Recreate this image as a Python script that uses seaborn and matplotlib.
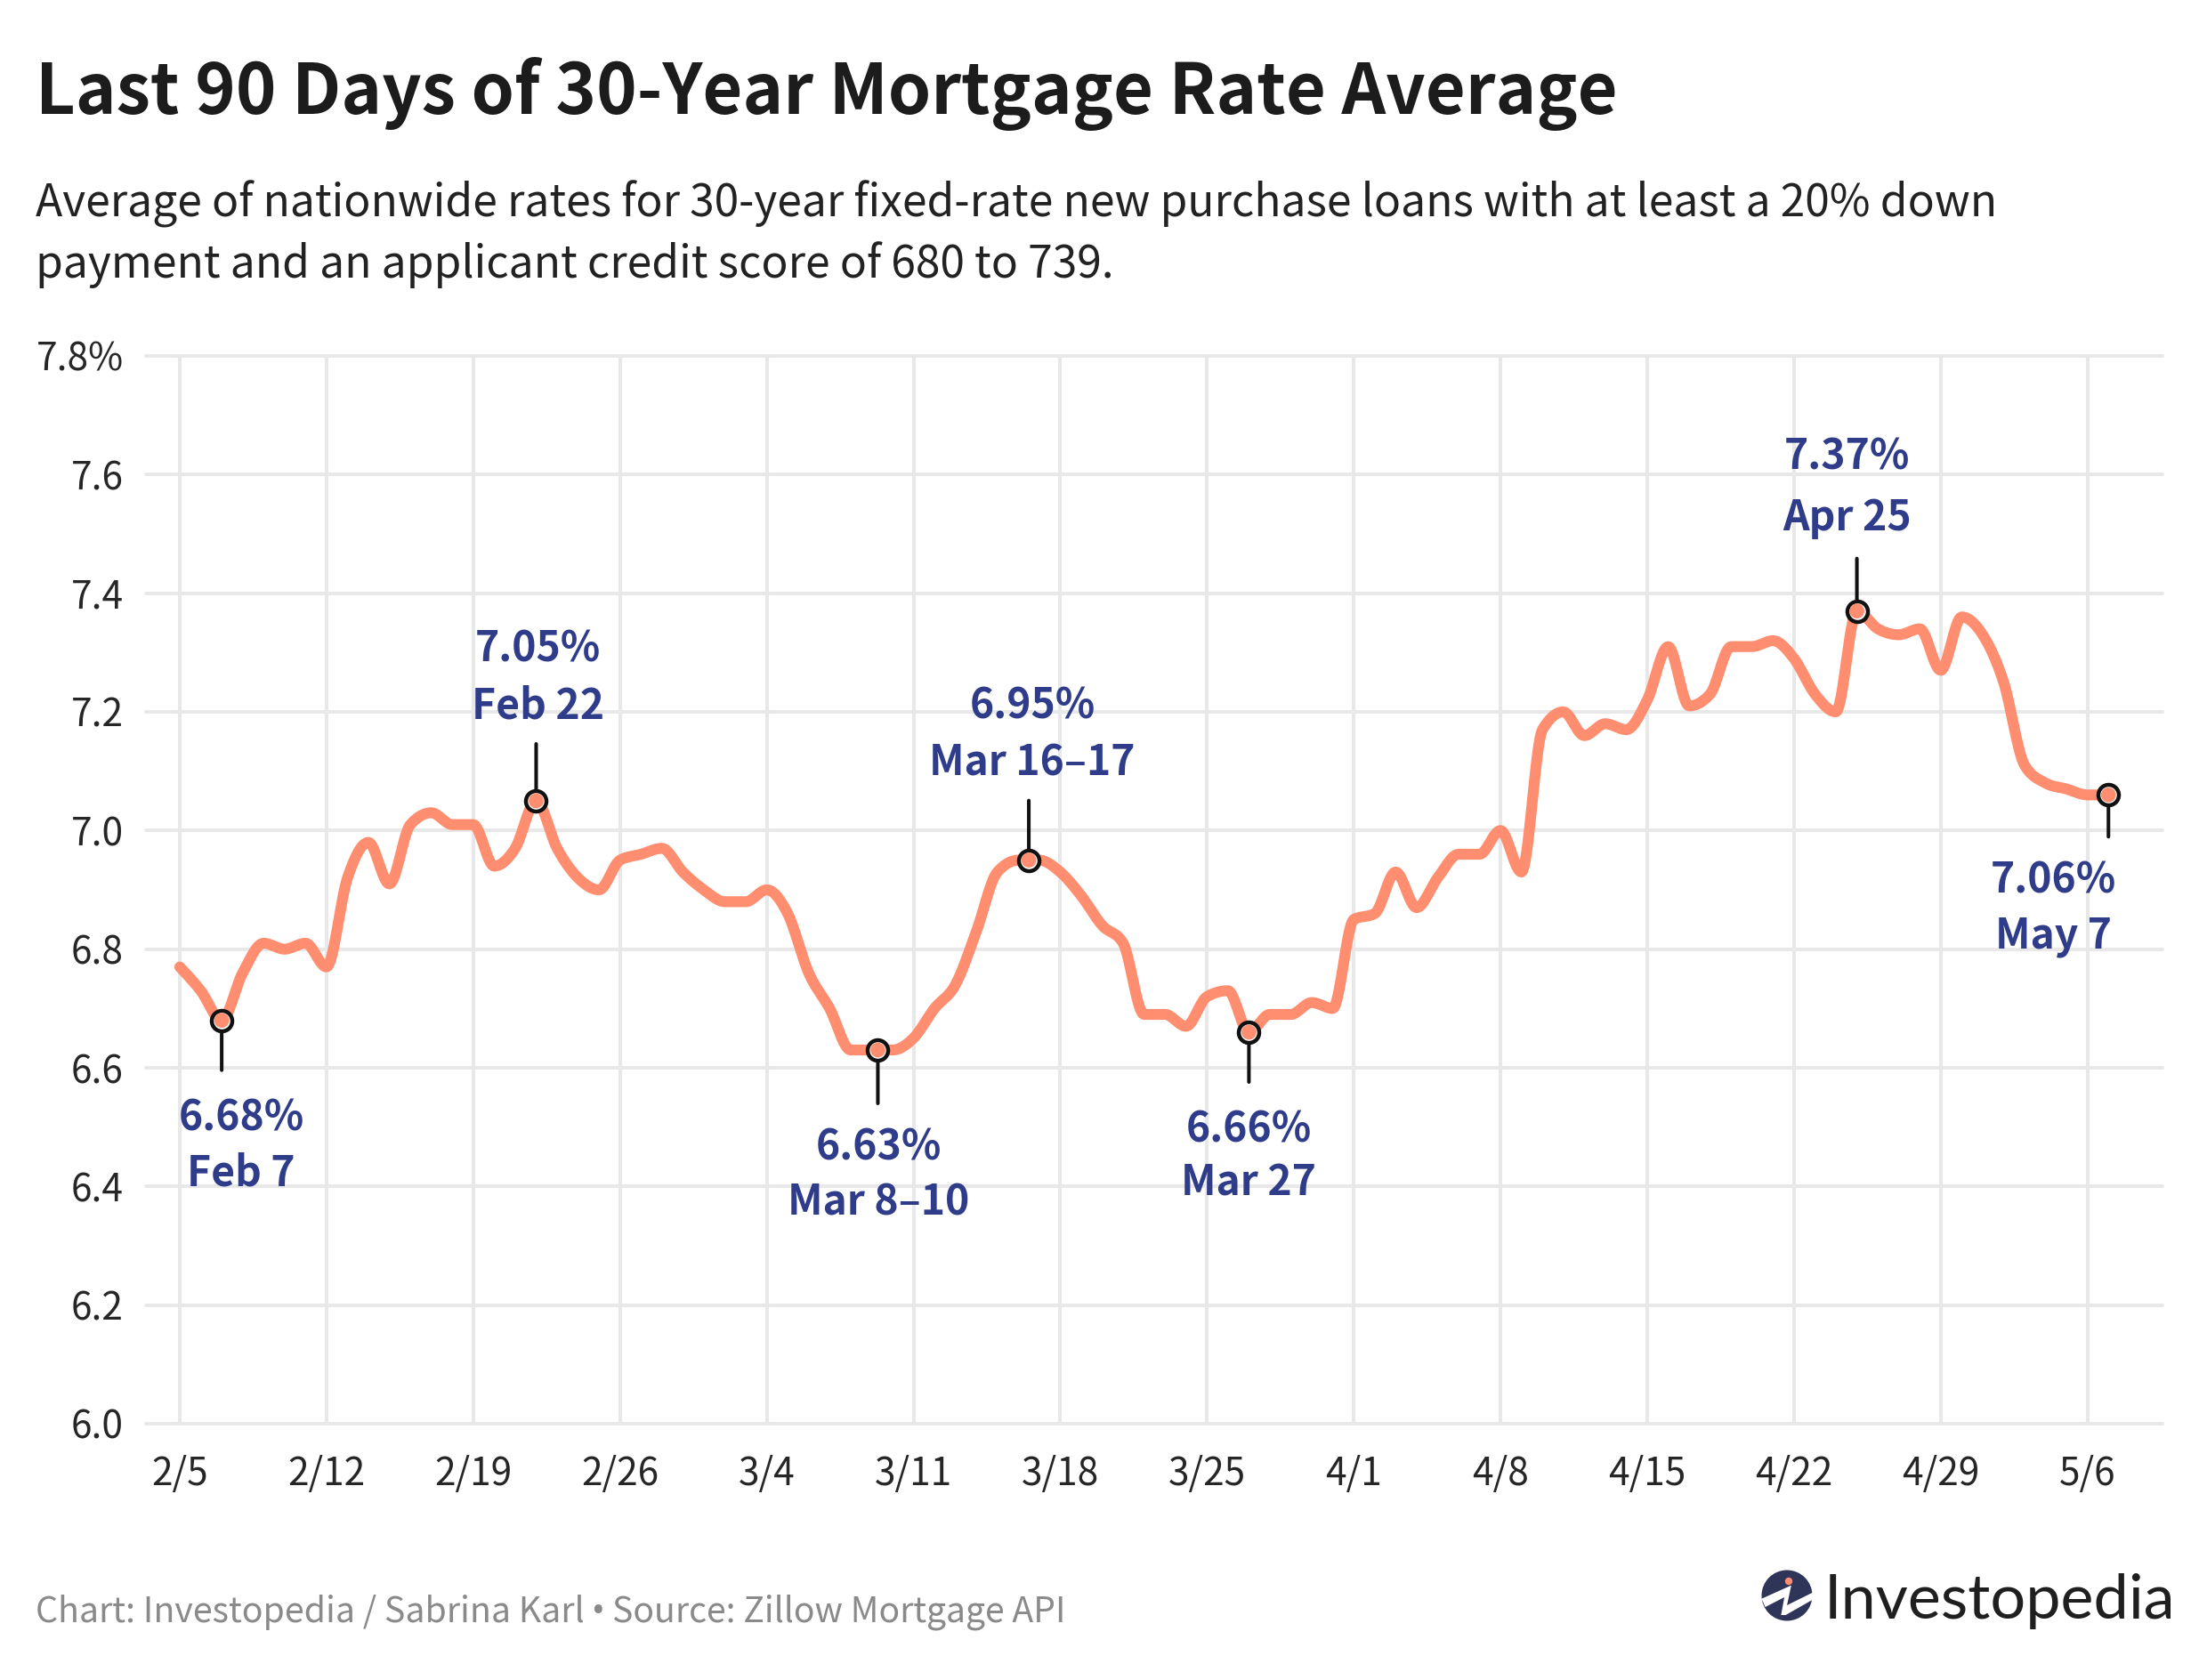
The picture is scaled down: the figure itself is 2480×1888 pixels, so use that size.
import matplotlib
matplotlib.use("Agg")
import matplotlib.pyplot as plt
from matplotlib.patches import Circle, Polygon
import numpy as np
import pandas as pd
import seaborn as sns

# daily average rate, Feb 5 to May 7
rates = [
    6.77, 6.73, 6.68, 6.76, 6.81, 6.80, 6.81, 6.77, 6.92, 6.98, 6.91, 7.01, 7.03, 7.01,
    7.01, 6.94, 6.97, 7.05, 6.97, 6.92, 6.90, 6.95, 6.96, 6.97, 6.93, 6.90, 6.88, 6.88,
    6.90, 6.86, 6.76, 6.70, 6.63, 6.63, 6.63, 6.65, 6.70, 6.74, 6.83, 6.93, 6.95, 6.95,
    6.93, 6.89, 6.84, 6.81, 6.69, 6.69, 6.67, 6.72, 6.73, 6.66, 6.69, 6.69, 6.71, 6.70,
    6.85, 6.86, 6.93, 6.87, 6.92, 6.96, 6.96, 7.00, 6.93, 7.17, 7.20, 7.16, 7.18, 7.17,
    7.22, 7.31, 7.21, 7.23, 7.31, 7.31, 7.32, 7.29, 7.23, 7.20, 7.37, 7.34, 7.33, 7.34,
    7.27, 7.36, 7.33, 7.25, 7.11, 7.08, 7.07, 7.06, 7.06,
]
week_labels = ["2/5", "2/12", "2/19", "2/26", "3/4", "3/11", "3/18", "3/25", "4/1", "4/8",
               "4/15", "4/22", "4/29", "5/6"]
y_ticks = [6.0, 6.2, 6.4, 6.6, 6.8, 7.0, 7.2, 7.4, 7.6, 7.8]
y_labels = ["6.0", "6.2", "6.4", "6.6", "6.8", "7.0", "7.2", "7.4", "7.6", "7.8%"]

note_days = [2, 17, 33.3, 40.5, 51, 80, 92]
note_rates = [6.68, 7.05, 6.63, 6.95, 6.66, 7.37, 7.06]
note_values = ["6.68%", "7.05%", "6.63%", "6.95%", "6.66%", "7.37%", "7.06%"]
note_dates = ["Feb 7", "Feb 22", "Mar 8–10", "Mar 16–17", "Mar 27", "Apr 25", "May 7"]

# pixel offsets from the marker: text dx, value dy, date dy, leader end dy
note_offsets = [
    (22, -110, -172, -56),
    (2, 170, 107, 64),
    (1, -109, -172, -60),
    (4, 173, 109, 67),
    (0, -110, -170, -56),
    (-11, 173, 105, 59),
    (-62, -96, -159, -47),
]

CORAL = "#FF8E70"
NAVY = "#2F3C8A"
GRID = "#E8E8E8"
INK = "#1C1C1C"
W, H = 2480, 1888


def monotone_curve(x, y, steps=16):
    # same smoothing as a d3 monotoneX line
    x, y = np.asarray(x, float), np.asarray(y, float)
    h = np.diff(x)
    s = np.diff(y) / h
    t = np.zeros_like(x)
    p = (s[:-1] * h[1:] + s[1:] * h[:-1]) / (h[:-1] + h[1:])
    t[1:-1] = (np.sign(s[:-1]) + np.sign(s[1:])) * np.minimum.reduce(
        [np.abs(s[:-1]), np.abs(s[1:]), 0.5 * np.abs(p)]
    )
    t[0] = (3 * s[0] - t[1]) / 2
    t[-1] = (3 * s[-1] - t[-2]) / 2
    xs, ys = [], []
    for i in range(len(h)):
        u = np.linspace(0, 1, steps, endpoint=False)
        xs.append(x[i] + u * h[i])
        ys.append(
            (2 * u**3 - 3 * u**2 + 1) * y[i]
            + (u**3 - 2 * u**2 + u) * h[i] * t[i]
            + (-2 * u**3 + 3 * u**2) * y[i + 1]
            + (u**3 - u**2) * h[i] * t[i + 1]
        )
    xs.append(x[-1:])
    ys.append(y[-1:])
    return np.concatenate(xs), np.concatenate(ys)


sns.set_theme(style="white")
plt.rcParams["font.family"] = ["Noto Sans CJK SC", "DejaVu Sans"]

days = np.arange(len(rates))
curve_x, curve_y = monotone_curve(days, rates)
curve = pd.DataFrame({"day": curve_x, "rate": curve_y})
notes = pd.DataFrame({"day": note_days, "rate": note_rates})

fig = plt.figure(figsize=(W / 100, H / 100), dpi=100, facecolor="white")
ax = fig.add_axes([164 / W, 1 - 1600 / H, (2430 - 164) / W, 1200 / H])
px_per_day = 164.9 / 7

sns.lineplot(data=curve, x="day", y="rate", ax=ax, color=CORAL, linewidth=8.8, zorder=3,
             solid_capstyle="round", solid_joinstyle="round", errorbar=None, estimator=None)

ax.set_xlim((164 - 202) / px_per_day, (2430 - 202) / px_per_day)
ax.set_ylim(6.0, 7.8)
ax.set_xticks(np.arange(len(week_labels)) * 7)
ax.set_xticklabels(week_labels)
ax.set_yticks(y_ticks)
ax.set_yticklabels(y_labels)
ax.grid(True, color=GRID, linewidth=2.9)
ax.set_axisbelow(True)
for line in ax.get_xgridlines() + ax.get_ygridlines():
    line.set_clip_on(False)
sns.despine(ax=ax, left=True, bottom=True, top=True, right=True)
ax.tick_params(axis="x", length=0, pad=25, labelsize=30.5, labelcolor="#262626")
ax.tick_params(axis="y", length=0, pad=18, labelsize=30.5, labelcolor="#262626")

# leaders and labels
for day, rate, value, date, (dx, dy1, dy2, lead) in zip(note_days, note_rates, note_values,
                                                        note_dates, note_offsets):
    ax.annotate("", xy=(day, rate), xytext=(0, lead), textcoords="offset pixels",
                arrowprops=dict(arrowstyle="-", color="#111111", lw=2.9, shrinkA=0, shrinkB=0),
                zorder=4)
    for text, dy in ((value, dy1), (date, dy2)):
        ax.annotate(text, xy=(day, rate), xytext=(dx, dy), textcoords="offset pixels",
                    ha="center", va="center", fontsize=33.3, fontweight="bold", color=NAVY,
                    zorder=6)

sns.scatterplot(data=notes, x="day", y="rate", ax=ax, s=275, color="white", edgecolor="#111111",
                linewidth=3.2, zorder=5, legend=False)
sns.scatterplot(data=notes, x="day", y="rate", ax=ax, s=145, color=CORAL, edgecolor="none",
                zorder=6, legend=False)
ax.set_xlabel("")
ax.set_ylabel("")

# page level text and logo, in pixel coordinates
page = fig.add_axes([0, 0, 1, 1], zorder=-1)
page.set_xlim(0, W)
page.set_ylim(H, 0)
page.axis("off")

page.text(40, 128, "Last 90 Days of 30-Year Mortgage Rate Average", fontsize=55.8,
          fontweight="bold", color=INK, va="baseline")
page.text(40, 243, "Average of nationwide rates for 30-year fixed-rate new purchase loans "
          "with at least a 20% down", fontsize=35.8, color="#222222", va="baseline")
page.text(40, 312, "payment and an applicant credit score of 680 to 739.", fontsize=35.8,
          color="#222222", va="baseline")
page.text(40, 1823, "Chart: Investopedia / Sabrina Karl", fontsize=28.3, color="#8A8A8A",
          va="baseline")
page.text(672, 1823, "•", fontsize=28.3, family="Noto Sans", color="#8A8A8A", va="baseline",
          ha="center")
page.text(688, 1823, "Source: Zillow Mortgage API", fontsize=28.2, color="#8A8A8A", va="baseline")

page.add_patch(Circle((2008, 1793), 28.5, color="#2F3558", lw=0))
band = [(215, 290), (305, 245), (292, 312), (372, 268), (372, 292), (288, 345), (274, 345),
        (284, 285), (226, 318)]
page.add_patch(Polygon([(1900 + bx / 2.703, 1700 + by / 3) for bx, by in band], color="white", lw=0))
page.add_patch(Circle((2010, 1777), 4.2, color=CORAL, lw=0))
page.text(2050, 1819, "Investopedia", fontsize=50.5, family="Lato", color="#1F1F1F", va="baseline")

fig.savefig("out.png", dpi=100)
plt.close(fig)
